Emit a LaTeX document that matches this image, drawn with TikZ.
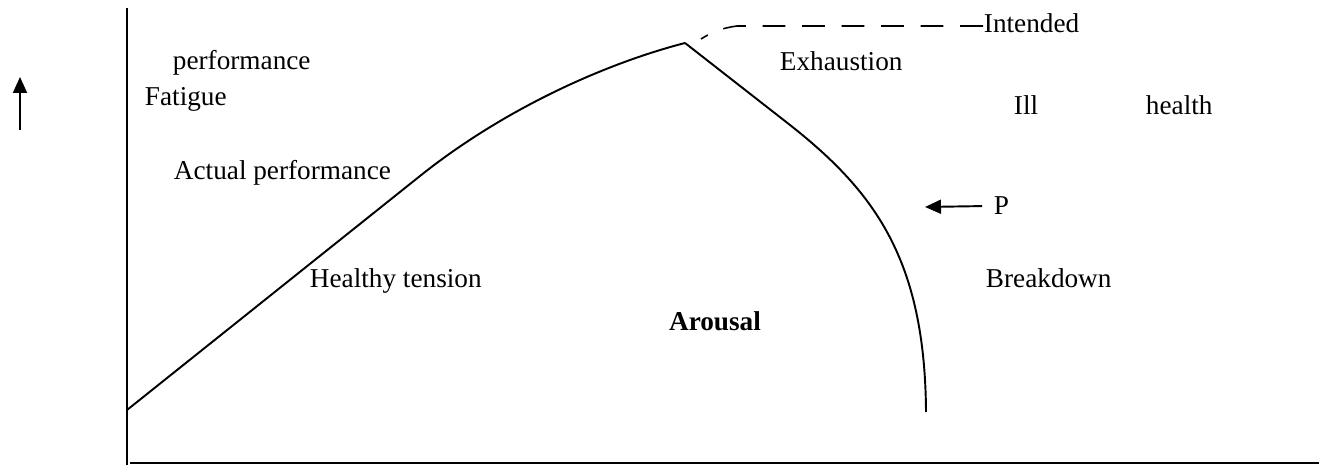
\documentclass[tikz,border=0pt]{standalone}
\usepackage{fontspec}
\setmainfont{Liberation Serif}
\usetikzlibrary{arrows.meta, positioning, calc}

\begin{document}
\begin{tikzpicture}[x=0.02cm, y=-0.02cm, line width=1.1pt,
  >={Triangle[length=0.32cm, width=0.28cm]},
  lbl/.style={anchor=base west, inner sep=0pt, font=\fontsize{15.5}{18}\selectfont}]

% Frame (keeps the page size)
\useasboundingbox (0,0) rectangle (1321,465);

% --- Axes ---
\coordinate (yaxtop) at (127,8);
\coordinate (origin) at (127,465);
\coordinate (xaxend) at (1319,463);
\draw[line width=1.4pt] (yaxtop) -- (origin);
\draw[line width=1.4pt] (130,463) -- (xaxend);

% Upward arrow at the left
\coordinate (uptail) at (20,130);
\coordinate (uphead) at (20,77);
\draw[->] (uptail) -- (uphead);

% --- Curves ---
% actual performance
\coordinate (start) at (127,410);
\coordinate (peak) at (685,43);
\draw (start) -- (420,176) .. controls (500,112) and (600,65) .. (peak);
% fall after the peak
\coordinate (low) at (926,412);
\draw (peak) -- (790,125) .. controls (875,192) and (925,260) .. (low);

% --- Labels ---
\node[lbl] (perf) at (172,70) {performance};
\node[lbl] (fatigue) at (144,106) {Fatigue};
\node[lbl] (actual) at (173,180) {Actual performance};
\node[lbl] (exh) at (779,71) {Exhaustion};
\node[lbl] (intended) at (983,33) {Intended};
\node[lbl] (ill) at (1013,115) {Ill};
\node[lbl] (health) at (1145,115) {health};
\node[lbl] (pnode) at (993,215) {P};
\node[lbl] (healthy) at (309,288) {Healthy tension};
\node[lbl] (breakdown) at (985,288) {Breakdown};
\node[lbl, anchor=base, font=\fontsize{15.5}{18}\selectfont\bfseries] (arousal) at (715,331) {Arousal};

% intended performance (drawn from the label back to the peak)
\draw[dash pattern=on 13pt off 9.5pt, line width=0.9pt]
  (intended.west |- 0,26) -- (737,26) .. controls (722,28) and (712,32) .. (701,39);

% Arrow pointing to the curve
\coordinate (ptip) at (925,207);
\draw[->] ($(pnode.west)+(-11,0)$) -- (ptip);

\end{tikzpicture}
\end{document}
